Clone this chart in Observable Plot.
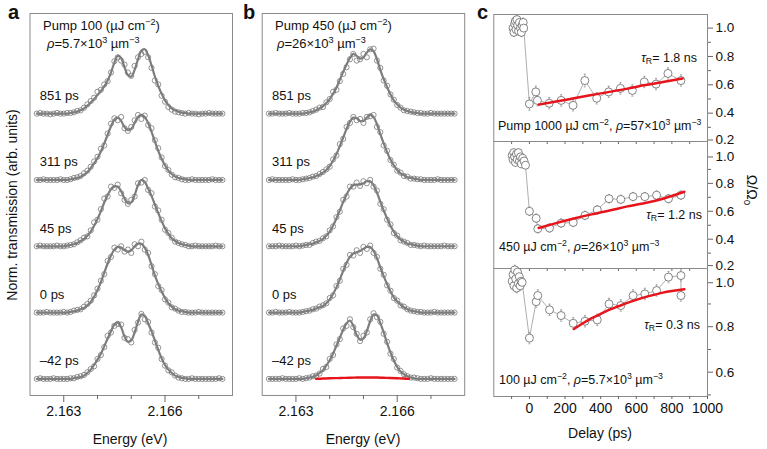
<!DOCTYPE html>
<html><head><meta charset="utf-8">
<script src="https://cdn.jsdelivr.net/npm/d3@7"></script>
<script src="https://cdn.jsdelivr.net/npm/@observablehq/plot@0.6"></script>
<style>
body{margin:0;background:#fff;}
#c{position:relative;width:767px;height:449px;font-family:"Liberation Sans",Arial,sans-serif;color:#111;overflow:hidden;background:#fff}
.abs{position:absolute;white-space:nowrap;line-height:1}
sup{font-size:0.7em;vertical-align:0.5em;line-height:0}
sub{font-size:0.7em;vertical-align:-0.3em;line-height:0}
</style></head><body><div id="c"></div>
<script>
// ---------- energy grid (eV) ----------
const energies = [2.1622,2.1623,2.1624,2.1625,2.1626,2.1627,2.1628,2.1629,2.1630,2.1631,
2.1632,2.1633,2.1634,2.1635,2.1636,2.1637,2.1638,2.1639,2.1640,2.1641,
2.1642,2.1643,2.1644,2.1645,2.1646,2.1647,2.1648,2.1649,2.1650,2.1651,
2.1652,2.1653,2.1654,2.1655,2.1656,2.1657,2.1658,2.1659,2.1660,2.1661,
2.1662,2.1663,2.1664,2.1665,2.1666,2.1667,2.1668,2.1669,2.1670,2.1671,
2.1672,2.1673,2.1674,2.1675,2.1676,2.1677];
const delayLabels = ["851 ps","311 ps","45 ps","0 ps","\u201342 ps"];

// ---------- panel a (Pump 100) ----------
const fitA851 = [0,0,0,0,0,0,0,0,0,0, .01,.02,.03,.05,.08,.12,.17,.22,.28,.34, .41,.50,.62,.77,.87,.84,.70,.58,.56,.66, .82,.95,.97,.88,.73,.56,.42,.30,.20,.13, .08,.05,.03,.015,.01,0,0,0,0,0, 0,0,0,0,0,0];
const datA851 = [0,.01,0,0,-.01,0,.01,0,0,.01, .01,.02,.04,.05,.09,.14,.19,.24,.33,.36, .44,.49,.62,.79,.85,.80,.74,.62,.57,.72, .85,.90,.93,.85,.69,.50,.44,.27,.18,.10, .06,.03,.02,.01,0,.01,0,0,-.01,0, 0,.01,0,0,0,0];
const fitA311 = [0,0,0,0,0,0,0,0,0,0, .01,.02,.03,.05,.08,.12,.18,.25,.33,.43, .55,.68,.81,.91,.94,.89,.80,.75,.77,.86, .95,.98,.95,.86,.73,.58,.44,.32,.22,.14, .09,.05,.03,.02,.01,0,0,0,0,0, 0,0,0,0,0,0];
const datA311 = [0,0,.01,0,0,0,0,.01,0,0, .01,.03,.04,.06,.10,.14,.20,.28,.35,.47, .52,.70,.85,.93,.90,.95,.78,.74,.80,.90, .98,.92,.97,.83,.78,.60,.48,.34,.21,.15, .08,.04,.03,.01,0,0,.01,0,0,0, 0,0,.01,0,0,0];
const fitA45 = [0,0,0,0,0,0,0,0,0,.01, .02,.03,.05,.08,.11,.16,.22,.31,.41,.53, .66,.77,.86,.90,.90,.83,.72,.65,.66,.77, .92,1.0,.97,.87,.76,.63,.50,.38,.27,.19, .12,.08,.05,.03,.02,.01,0,0,0,0, 0,0,0,0,0,0];
const datA45 = [0,.01,0,0,0,0,.01,0,0,.01, .02,.03,.06,.09,.13,.15,.24,.36,.40,.56, .72,.75,.90,.88,.93,.80,.70,.64,.70,.75, .95,.96,1.0,.85,.80,.60,.54,.40,.25,.20, .13,.07,.05,.03,.02,0,0,.01,0,0, 0,0,0,.01,0,0];
const fitA0 = [0,0,0,0,0,0,0,0,0,0, .01,.02,.03,.05,.07,.11,.16,.24,.34,.46, .60,.74,.86,.95,.99,.98,.94,.92,.94,1.0, 1.04,1.04,.98,.87,.72,.56,.43,.32,.22,.14, .09,.05,.03,.02,.01,0,0,0,0,0, 0,0,0,0,0,0];
const datA0 = [0,0,0,.01,0,0,0,0,.01,0, .01,.03,.04,.05,.09,.13,.18,.26,.36,.48, .58,.78,.84,.98,.95,1.0,.92,.95,.90,1.03, 1.0,1.07,.95,.90,.70,.58,.40,.34,.20,.15, .08,.06,.03,.01,.01,0,0,0,.01,0, 0,0,0,0,0,0];
const fitAm42 = [0,0,0,0,0,0,0,0,0,0, 0,.01,.02,.03,.05,.09,.14,.21,.29,.38, .49,.61,.72,.82,.85,.78,.64,.56,.58,.70, .86,.97,.95,.84,.72,.58,.44,.31,.21,.14, .09,.05,.03,.015,.01,0,0,0,0,0, 0,0,0,0,0,0];
const datAm42 = [0,.01,0,0,0,.01,0,0,0,0, .01,.01,.03,.04,.06,.10,.15,.19,.30,.36, .48,.65,.70,.80,.83,.82,.62,.60,.55,.74, .85,.98,.90,.86,.70,.55,.47,.30,.20,.13, .10,.05,.02,.01,0,0,.01,0,0,0, 0,0,0,0,.01,0];

// ---------- panel b (Pump 450) ----------
const fitB851 = [0,0,0,0,0,0,0,0,0,0, 0,.01,.02,.03,.05,.08,.11,.16,.22,.30, .39,.51,.63,.74,.84,.90,.87,.83,.85,.92, .97,.94,.82,.66,.52,.40,.29,.20,.14,.09, .06,.04,.025,.015,.01,0,0,0,0,0, 0,0,0,0,0,0];
const datB851 = [0,0,.01,0,0,0,.01,0,0,0, .01,.01,.02,.04,.06,.09,.10,.17,.22,.33, .36,.49,.60,.70,.82,.90,.80,.82,.90,.85, .97,.98,.80,.69,.50,.42,.29,.21,.13,.09, .05,.04,.03,.02,.01,.01,0,0,.01,0, 0,0,0,0,0,0];
const fitB311 = [0,0,0,0,0,0,0,0,0,0, .01,.02,.03,.04,.06,.08,.11,.15,.21,.29, .39,.51,.64,.77,.88,.94,.93,.89,.89,.94, .98,.95,.84,.69,.55,.42,.31,.22,.15,.10, .07,.04,.03,.02,.01,0,0,0,0,0, 0,0,0,0,0,0];
const datB311 = [0,.01,0,0,0,0,0,.01,0,0, .01,.02,.03,.05,.06,.09,.12,.16,.20,.31, .37,.54,.62,.80,.86,.95,.90,.92,.86,.95, .96,.98,.80,.72,.52,.44,.30,.23,.14,.11, .06,.05,.02,.02,.01,.01,0,0,0,0, .01,0,0,0,0,0];
const fitB45 = [0,0,0,0,0,0,0,0,0,0, .01,.02,.03,.04,.06,.08,.11,.16,.22,.31, .42,.54,.67,.78,.87,.92,.93,.93,.95,.98, .98,.92,.81,.67,.54,.42,.31,.22,.15,.10, .07,.04,.03,.02,.01,0,0,0,0,0, 0,0,0,0,0,0];
const datB45 = [0,0,0,.01,0,0,0,0,.01,0, .01,.02,.02,.05,.07,.08,.12,.15,.24,.30, .44,.52,.70,.75,.90,.90,.96,.91,.98,.95, 1.0,.90,.84,.64,.56,.40,.33,.20,.16,.09, .07,.05,.02,.02,.01,0,.01,0,0,0, 0,0,.01,0,0,0];
const fitB0 = [0,0,0,0,0,0,0,0,0,0, .01,.02,.03,.04,.06,.08,.10,.14,.20,.28, .38,.50,.63,.75,.84,.89,.91,.93,.96,.99, .99,.93,.82,.68,.55,.43,.32,.23,.17,.12, .08,.05,.03,.02,.01,0,0,0,0,0, 0,0,0,0,0,0];
const datB0 = [0,0,.01,0,0,0,.01,0,0,0, .01,.02,.03,.05,.06,.09,.11,.14,.22,.26, .40,.48,.66,.72,.87,.86,.94,.90,.99,.96, 1.01,.90,.84,.66,.57,.41,.33,.22,.18,.11, .09,.05,.03,.02,.01,.01,0,0,0,.01, 0,0,0,0,0,0];
const fitBm42 = [0,0,0,0,0,0,0,0,0,0, 0,.01,.02,.03,.05,.09,.13,.20,.28,.38, .50,.62,.74,.84,.88,.80,.66,.59,.61,.72, .87,.97,.96,.84,.70,.54,.40,.28,.18,.11, .07,.04,.02,.01,0,0,0,0,0,0, 0,0,0,0,0,0];
const datBm42 = [0,0,0,0,.01,0,0,0,0,.01, 0,.01,.02,.04,.05,.08,.15,.18,.30,.36, .52,.60,.76,.80,.90,.78,.68,.57,.65,.70, .90,.99,.93,.86,.68,.56,.38,.30,.17,.12, .07,.04,.02,.02,.01,0,0,0,.01,0, 0,0,0,0,0,0];
const redBE = [2.1636,2.1638,2.1640,2.1642,2.1644,2.1646,2.1648,2.1650,2.1652,2.1654,2.1656,2.1658,2.1660,2.1662,2.16635];
const redBV = [0,.005,.01,.012,.015,.018,.02,.022,.02,.02,.017,.014,.01,.005,0];

// ---------- panel c ----------
const c1T = [-92,-87,-83,-79,-75,-70,-66,-61,-56,-50,-45,-40,-35,-32, 0,36,45,111,178,245,311,378,445,511,578,645,711,778,851];
const c1V = [1.00,0.97,1.03,1.05,0.99,1.06,1.02,0.98,1.04,1.00,0.97,1.02,1.04,1.00, 0.465,0.55,0.49,0.47,0.49,0.455,0.63,0.505,0.55,0.575,0.56,0.62,0.605,0.68,0.63];
const c1E = [.03,.03,.03,.03,.03,.03,.03,.03,.03,.03,.03,.03,.03,.03, .045,.04,.04,.04,.04,.04,.045,.04,.04,.04,.04,.04,.04,.04,.04];
const c1FitT = [52,150,250,350,450,550,650,750,860];
const c1FitV = [0.46,0.482,0.505,0.528,0.55,0.573,0.598,0.62,0.645];

const c2T = [-97,-92,-88,-83,-78,-73,-68,-62,-56,-50,-44,-38,-30,-22, 0,38,47,113,178,246,312,381,447,513,582,648,714,781,851];
const c2V = [1.00,0.97,1.02,0.99,0.95,1.01,0.97,1.02,0.96,0.99,0.94,0.98,0.96,0.93, 0.60,0.55,0.475,0.48,0.515,0.52,0.57,0.61,0.69,0.685,0.705,0.705,0.715,0.69,0.715];
const c2E = [.025,.025,.025,.025,.025,.025,.025,.025,.025,.025,.025,.025,.025,.025, .03,.03,.03,.03,.03,.03,.03,.03,.03,.03,.03,.03,.03,.03,.03];
const c2FitT = [52,150,250,350,450,550,650,750,870];
const c2FitV = [0.48,0.515,0.548,0.578,0.605,0.635,0.66,0.69,0.74];

const c3T = [-97,-92,-87,-82,-77,-72,-67,-62,-57,-52,-47,-41, 0,38,47,113,178,246,312,381,447,513,582,648,714,781,851,851];
const c3V = [1.00,1.03,0.98,1.05,1.01,0.97,1.04,0.99,1.02,0.98,1.00,0.995, 0.75,0.91,0.937,0.874,0.849,0.815,0.824,0.83,0.90,0.893,0.937,0.944,0.959,1.018,1.025,0.937];
const c3E = [.02,.02,.02,.02,.02,.02,.02,.02,.02,.02,.02,.02, .025,.025,.025,.025,.025,.025,.025,.025,.025,.025,.025,.025,.025,.025,.025,.025];
const c3FitT = [250,300,350,400,450,500,550,600,650,700,750,800,870];
const c3FitV = [0.79,0.815,0.838,0.856,0.875,0.89,0.905,0.918,0.93,0.94,0.95,0.957,0.965];

// ---------- helpers ----------
const root = document.getElementById("c");
const FONT = "Liberation Sans, Arial, sans-serif";
function put(el, left, top){ el.style.position="absolute"; el.style.left=left+"px"; el.style.top=top+"px"; root.appendChild(el); }
function label(html, x, y, o={}) {
  const {anchor="start", size=13, weight="normal", rotate=0} = o;
  const d = document.createElement("div");
  d.className="abs"; d.innerHTML = html;
  d.style.fontSize=size+"px"; d.style.fontWeight=weight;
  d.style.left=x+"px"; d.style.top=y+"px";
  const tx = anchor==="start"?"0":anchor==="end"?"-100%":"-50%";
  d.style.transform = `translate(${tx},-50%)` + (rotate?` rotate(${rotate}deg)`:"");
  root.appendChild(d);
}

function spectraPanel(fits, dats, redLine, ml) {
  const pts = [], lines = [];
  fits.forEach((f, k) => {
    const off = 4 - k;
    energies.forEach((e, i) => {
      pts.push({E: e, y: dats[k][i] + off});
      lines.push({E: e, y: f[i] + off, s: k});
    });
  });
  const labs = delayLabels.map((t, k) => ({t, y: 4 - k + 0.27}));
  const marks = [
    Plot.frame({stroke: "#8a8a8a", strokeWidth: 1}),
    Plot.dot(pts, {x: "E", y: "y", r: 2.6, stroke: "#666", strokeWidth: 0.7, fill: "none"}),
    Plot.line(lines, {x: "E", y: "y", z: "s", stroke: "#7d7d7d", strokeWidth: 2.2, curve: "catmull-rom"}),
    Plot.text(labs, {x: 2.16229, y: "y", text: "t", textAnchor: "start", fontSize: 13, fill: "#111"}),
    Plot.axisX({ticks: [2.163, 2.166], tickSize: 7, tickPadding: 4, tickFormat: d3.format(".3f"), stroke: "#666", label: null, fontSize: 14}),
    Plot.axisX({ticks: [2.164, 2.165, 2.167], tickSize: 4, tickFormat: () => "", stroke: "#666", label: null})
  ];
  if (redLine) marks.push(Plot.line(redLine, {x: "E", y: "v", stroke: "#e8141c", strokeWidth: 2.4, curve: "catmull-rom"}));
  return Plot.plot({
    width: ml + 202.5 + 8, height: 449,
    marginLeft: ml, marginRight: 8, marginTop: 13, marginBottom: 54,
    x: {domain: [2.162, 2.168]}, y: {domain: [-0.25, 5.51], axis: null},
    style: {fontFamily: FONT, fontSize: "14px", color: "#111", background: "transparent", overflow: "visible"},
    marks
  });
}

const pa = spectraPanel([fitA851, fitA311, fitA45, fitA0, fitAm42], [datA851, datA311, datA45, datA0, datAm42], null, 29.5);
put(pa, 0, 0);
const redRows = redBE.map((e, i) => ({E: e, v: redBV[i]}));
const pb = spectraPanel([fitB851, fitB311, fitB45, fitB0, fitBm42], [datB851, datB311, datB45, datB0, datBm42], redRows, 21.7);
put(pb, 240, 0);

// ticks: [value, dy] pairs per sub-panel so labels at shared borders stay apart
function cPanel(T, V, E, FT, FV, domain, ticks, edgeTicks, minor, mt, h, mb, lastX) {
  const pts = T.map((t, i) => ({t, v: V[i], e: E[i]}));
  const fit = FT.map((t, i) => ({t, v: FV[i]}));
  const xt = [-100,0,100,200,300,400,500,600,700,800,900,1000];
  const marks = [
    Plot.frame({stroke: "#8a8a8a", strokeWidth: 1}),
    Plot.line(pts, {x: "t", y: "v", stroke: "#999", strokeWidth: 0.8}),
    Plot.ruleX(pts, {x: "t", y1: d => d.v - d.e, y2: d => d.v + d.e, stroke: "#999", strokeWidth: 0.8}),
    Plot.link(pts, {x1: d => d.t - 6, x2: d => d.t + 6, y1: d => d.v + d.e, y2: d => d.v + d.e, stroke: "#999", strokeWidth: 0.8}),
    Plot.link(pts, {x1: d => d.t - 6, x2: d => d.t + 6, y1: d => d.v - d.e, y2: d => d.v - d.e, stroke: "#999", strokeWidth: 0.8}),
    Plot.dot(pts, {x: "t", y: "v", r: 4, stroke: "#666", strokeWidth: 0.8, fill: "white"}),
    Plot.line(fit, {x: "t", y: "v", stroke: "#e8141c", strokeWidth: 2.5, curve: "natural"}),
    Plot.axisY({anchor: "right", ticks, tickSize: 5, tickPadding: 3, tickFormat: d3.format(".1f"), stroke: "#666", label: null, fontSize: 13.5}),
    Plot.axisY({anchor: "right", ticks: minor, tickSize: 3, tickFormat: () => "", stroke: "#666", label: null}),
    lastX
      ? Plot.axisX({ticks: xt, tickSize: 3, tickPadding: 4, tickFormat: d => (d >= 0 && d % 200 === 0) ? String(d) : "", stroke: "#666", label: null, fontSize: 14})
      : Plot.axisX({ticks: xt, tickSize: 3, tickFormat: () => "", stroke: "#666", label: null})
  ];
  edgeTicks.forEach(([v, dy]) => marks.push(
    Plot.axisY({anchor: "right", ticks: [v], tickSize: 5, tickPadding: 3, dy, tickFormat: d3.format(".1f"), stroke: "#666", label: null, fontSize: 13.5})
  ));
  return Plot.plot({
    width: 277, height: h, marginLeft: 3.3, marginRight: 60, marginTop: mt, marginBottom: mb,
    x: {domain: [-200, 1000]}, y: {domain},
    style: {fontFamily: FONT, fontSize: "14px", color: "#111", background: "transparent", overflow: "visible"},
    marks
  });
}
const c1 = cPanel(c1T, c1V, c1E, c1FitT, c1FitV, [0.2, 1.096], [0.4,0.6,0.8,1.0], [[0.2, -1.5]], [0.3,0.5,0.7,0.9], 14, 150, 9, false);
put(c1, 490, 0);
const c2 = cPanel(c2T, c2V, c2E, c2FitT, c2FitV, [0.19, 1.10], [0.4,0.6,0.8], [[1.0, 1.5], [0.2, -1.5]], [0.3,0.5,0.7,0.9], 0, 137, 10, false);
put(c2, 490, 141);
const c3 = cPanel(c3T, c3V, c3E, c3FitT, c3FitV, [0.493, 1.056], [0.6,0.8], [[1.0, 1.5]], [0.5,0.7,0.9], 0, 181, 53, true);
put(c3, 490, 268);

// ---------- text ----------
label("a", 8, 12, {size: 20, weight: "bold"});
label("b", 243, 12, {size: 20, weight: "bold"});
label("c", 477, 12, {size: 20, weight: "bold"});
label("Pump 100 (\u00b5J cm<sup>\u22122</sup>)", 43, 25);
label("<i>\u03c1</i>=5.7\u00d710<sup>3</sup> \u00b5m<sup>\u22123</sup>", 47, 43);
label("Pump 450 (\u00b5J cm<sup>\u22122</sup>)", 275, 25);
label("<i>\u03c1</i>=26\u00d710<sup>3</sup> \u00b5m<sup>\u22123</sup>", 277, 43);
label("Norm. transmission (arb. units)", 12, 205, {anchor: "middle", size: 14, rotate: -90});
label("Energy (eV)", 130, 439, {anchor: "middle", size: 14});
label("Energy (eV)", 363, 439, {anchor: "middle", size: 14});
label("Delay (ps)", 600, 433, {anchor: "middle", size: 14});
label("\u03a9/\u03a9<sub>0</sub>", 752, 190, {anchor: "middle", size: 14, rotate: 90});
label("<i>\u03c4</i><sub>R</sub>= 1.8 ns", 697, 58, {anchor: "end", size: 12.5});
label("<i>\u03c4</i><sub>R</sub>= 1.2 ns", 702, 215, {anchor: "end", size: 12.5});
label("<i>\u03c4</i><sub>R</sub>= 0.3 ns", 700, 325, {anchor: "end", size: 12.5});
label("Pump 1000 \u00b5J cm<sup>\u22122</sup>, <i>\u03c1</i>=57\u00d710<sup>3</sup> \u00b5m<sup>\u22123</sup>", 498, 126, {size: 12.5});
label("450 \u00b5J cm<sup>\u22122</sup>, <i>\u03c1</i>=26\u00d710<sup>3</sup> \u00b5m<sup>\u22123</sup>", 499, 247, {size: 12.5});
label("100 \u00b5J cm<sup>\u22122</sup>, <i>\u03c1</i>=5.7\u00d710<sup>3</sup> \u00b5m<sup>\u22123</sup>", 499, 380, {size: 12.5});
</script></body></html>
